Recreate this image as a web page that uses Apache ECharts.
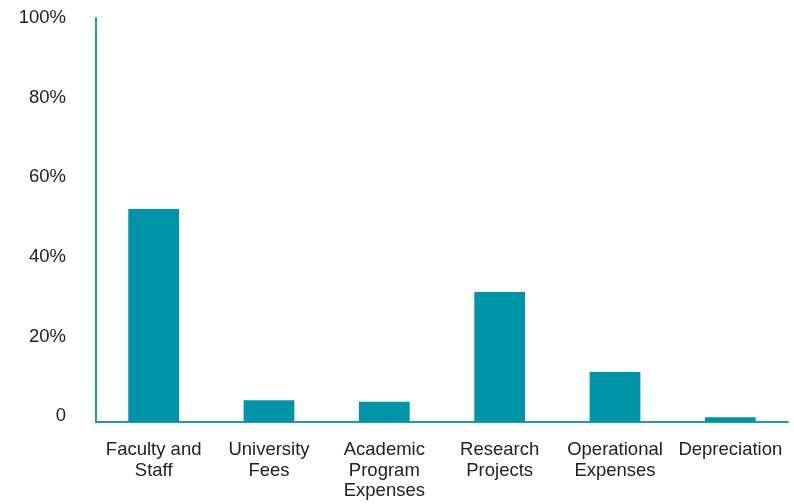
<!DOCTYPE html>
<html><head><meta charset="utf-8">
<script src="https://cdn.jsdelivr.net/npm/echarts@6/dist/echarts.min.js"></script>
<style>html,body{margin:0;padding:0;background:#fff}#c{width:794px;height:504px}</style>
</head><body><div id="c"></div>
<script>
const categories = ["Faculty and\nStaff", "University\nFees", "Academic\nProgram\nExpenses", "Research\nProjects", "Operational\nExpenses", "Depreciation"];
const values = [52.7, 5.4, 5.0, 32.2, 12.4, 1.2];
const yTicks = [0, 20, 40, 60, 80, 100];

const font = 'Liberation Sans, Arial, sans-serif';
const chart = echarts.init(document.getElementById('c'), null, {renderer: 'canvas'});
chart.setOption({
  animation: false,
  grid: {left: 96, right: 6, top: 18, bottom: 82},
  xAxis: {
    type: 'category', data: categories,
    axisLine: {lineStyle: {color: '#1a9fb0', width: 2}},
    axisTick: {show: false},
    axisLabel: {color: '#222', fontSize: 18.5, lineHeight: 20.5, margin: 18, fontFamily: font, interval: 0}
  },
  yAxis: [{
    type: 'value', min: 0, max: 100, interval: 20,
    axisLine: {show: true, lineStyle: {color: '#1a9fb0', width: 2}},
    axisTick: {show: false},
    splitLine: {show: false},
    axisLabel: {show: false}
  }, {
    type: 'value', position: 'left', min: -1.5, max: 100,
    axisLine: {show: false},
    axisTick: {show: false},
    splitLine: {show: false},
    axisLabel: {color: '#222', fontSize: 18.5, margin: 30, fontFamily: font,
      customValues: yTicks,
      formatter: v => v === 0 ? '0' : v + '%'}
  }],
  series: [{
    type: 'bar', data: values, barWidth: '44%', yAxisIndex: 0,
    itemStyle: {color: '#0094a9'}
  }]
});
</script></body></html>
